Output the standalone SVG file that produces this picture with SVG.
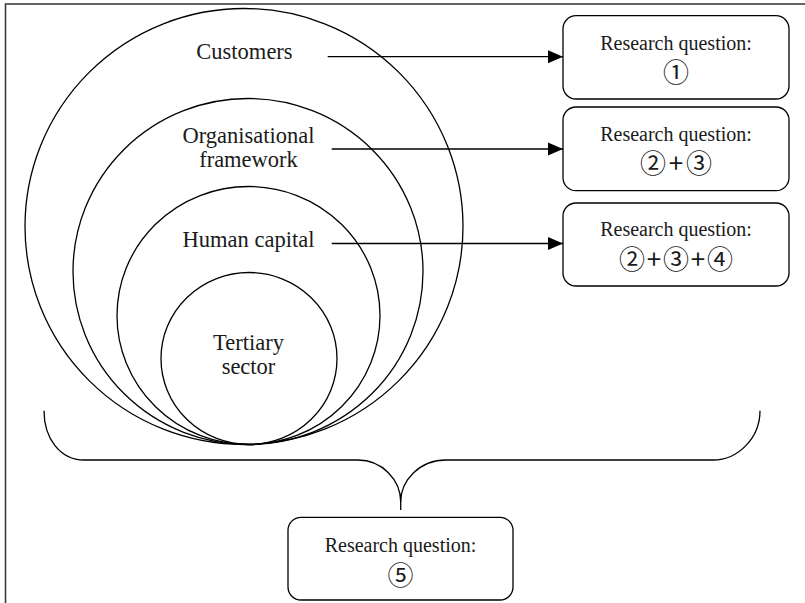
<svg xmlns="http://www.w3.org/2000/svg" width="805" height="603" viewBox="0 0 805 603">
  <defs>
    <style>
      .ring { fill: none; stroke: #000; stroke-width: 1.3; }
      .box { fill: #fff; stroke: #000; stroke-width: 1.3; }
      .conn { fill: none; stroke: #000; stroke-width: 1.3; }
      .lbl { font-size: 22.5px; fill: #1a1a1a; text-anchor: middle; }
      .rq { font-size: 20px; fill: #1a1a1a; text-anchor: middle; }
      .num { font-size: 26px; fill: #1a1a1a; text-anchor: middle; }
      .frame { fill: none; stroke: #333; stroke-width: 1.5; }
    </style>
    <marker id="arrow" markerUnits="userSpaceOnUse" markerWidth="16" markerHeight="14" refX="15" refY="7" orient="auto">
      <path d="M0,0.5 L15,7 L0,13.5 Z" fill="#000"/>
    </marker>
  </defs>

  <rect width="805" height="603" fill="#fff"/>
  <path class="frame" d="M5.5,603 L5.5,4 L805,4"/>

  <g id="customers" font-family="'Liberation Serif', 'DejaVu Serif', serif">
    <ellipse class="ring" cx="244" cy="226.5" rx="219" ry="218"/>
    <text class="lbl" x="244.5" y="59">Customers</text>
  </g>
  <g id="organisational-framework" font-family="'Liberation Serif', 'DejaVu Serif', serif">
    <ellipse class="ring" cx="248" cy="271.5" rx="175" ry="173"/>
    <text class="lbl" x="248.5" y="143">Organisational</text>
    <text class="lbl" x="248.5" y="167">framework</text>
  </g>
  <g id="human-capital" font-family="'Liberation Serif', 'DejaVu Serif', serif">
    <ellipse class="ring" cx="248.5" cy="315.5" rx="131.5" ry="129"/>
    <text class="lbl" x="248.5" y="246.5">Human capital</text>
  </g>
  <g id="tertiary-sector" font-family="'Liberation Serif', 'DejaVu Serif', serif">
    <ellipse class="ring" cx="249" cy="358.5" rx="88" ry="86"/>
    <text class="lbl" x="248.5" y="350">Tertiary</text>
    <text class="lbl" x="248.5" y="373.5">sector</text>
  </g>

  <g id="rq1">
    <rect class="box" x="563" y="15.7" width="226" height="83.3" rx="13" ry="13"/>
    <text class="rq" font-family="'Liberation Serif', 'DejaVu Serif', serif" x="676" y="49.5">Research question:</text>
    <text class="num" font-family="'Noto Sans CJK JP', 'DejaVu Sans', sans-serif" x="676" y="82">①</text>
  </g>
  <g id="rq23">
    <rect class="box" x="563" y="107" width="226" height="83.7" rx="13" ry="13"/>
    <text class="rq" font-family="'Liberation Serif', 'DejaVu Serif', serif" x="676" y="140.5">Research question:</text>
    <text class="num" font-family="'Noto Sans CJK JP', 'DejaVu Sans', sans-serif" x="653 664 676 688 699" y="173">② + ③</text>
  </g>
  <g id="rq234">
    <rect class="box" x="563" y="203" width="226" height="83" rx="13" ry="13"/>
    <text class="rq" font-family="'Liberation Serif', 'DejaVu Serif', serif" x="676" y="236">Research question:</text>
    <text class="num" font-family="'Noto Sans CJK JP', 'DejaVu Sans', sans-serif" x="632 654 676 698 720" y="268.5">②+③+④</text>
  </g>
  <g id="rq5">
    <rect class="box" x="288" y="517.3" width="225" height="82.7" rx="13" ry="13"/>
    <text class="rq" font-family="'Liberation Serif', 'DejaVu Serif', serif" x="400.5" y="552">Research question:</text>
    <text class="num" font-family="'Noto Sans CJK JP', 'DejaVu Sans', sans-serif" x="400.5" y="584.5">⑤</text>
  </g>

  <g id="connectors">
    <line class="conn" x1="327.7" y1="56.7" x2="563" y2="56.7" marker-end="url(#arrow)"/>
    <line class="conn" x1="331.7" y1="149" x2="563" y2="149" marker-end="url(#arrow)"/>
    <line class="conn" x1="331.7" y1="243.5" x2="563" y2="243.5" marker-end="url(#arrow)"/>
    <path class="conn" d="M44,410.7 C44,438 60,460 84,460 L358,460 C382,460 400.7,480 400.7,502 C400.7,480 420,460 446,460 L713,460 C738,460 760,438 760,410.7"/>
    <line class="conn" x1="400.7" y1="501" x2="400.7" y2="510"/>
  </g>
</svg>
